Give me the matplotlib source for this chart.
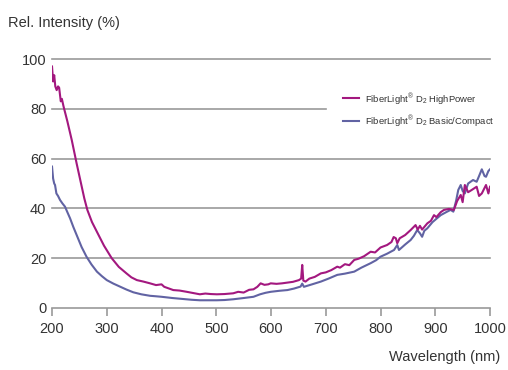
import numpy as np
import matplotlib
matplotlib.use("Agg")
import matplotlib.pyplot as plt

plt.rcParams['font.family'] = ['Liberation Sans', 'DejaVu Sans']

# FiberLight D2 HighPower
wl_hp = [200, 202, 204, 206, 208.5, 211, 213, 216, 218, 221, 228, 236, 245, 254, 259,
         264.5, 273, 282, 295, 309, 322, 336, 345, 355, 367, 379, 390, 400, 405, 421.5,
         433, 446, 458, 470, 480, 490, 501, 515, 531, 540, 550, 560, 568, 575, 581,
         588, 595, 599.5, 610, 620, 630, 640, 651, 655, 657, 659, 663, 670, 680, 691,
         700, 710, 721, 726, 735, 743, 752, 760, 770, 782, 790, 800, 812, 820, 824,
         828, 830.6, 835, 845, 855, 864, 868, 872, 876, 885.5, 892, 897.7, 902, 910,
         916, 925, 934, 940, 946.5, 950, 954, 960, 966.5, 975.6, 980, 985, 992.7, 997, 1000]
int_hp = [97, 91, 93.5, 89, 87.5, 89, 88.5, 83, 84, 81, 75, 67.5, 58, 49, 44,
          39.4, 34.5, 30.6, 25, 20, 16.5, 13.9, 12.3, 11.2, 10.6, 9.9, 9.2, 9.5, 8.5, 7.2,
          7, 6.5, 6, 5.5, 5.8, 5.6, 5.5, 5.6, 5.9, 6.5, 6.2, 7.3, 7.5, 8.5, 9.9,
          9.3, 9.5, 9.9, 9.7, 9.9, 10.2, 10.5, 11.2, 11.8, 17.3, 11, 10.6, 11.8, 12.5, 13.9,
          14.3, 15.2, 16.6, 16.2, 17.6, 17.2, 19.3, 19.8, 20.8, 22.6, 22.3, 24.3, 25.3, 26.5, 28.5,
          28, 26, 28, 29.3, 31.3, 33.3, 31.5, 33, 31.5, 34, 35, 37.3, 36.5, 38.5,
          39.4, 39.8, 39.4, 43, 45.4, 42.5, 49.4, 46.5, 47.4, 48.7, 45, 46, 49.4, 46, 48.7]

# FiberLight D2 Basic/Compact
wl_bc = [200, 202, 204, 205.5, 208, 211, 214.6, 219, 223.7, 228, 233, 239, 245, 254, 263,
         272, 282, 291, 300, 312, 324, 336, 348.5, 363, 379, 390, 400, 420, 440, 455,
         470, 485, 501, 515, 531, 550, 568, 580, 590, 599.5, 615, 630, 642, 654, 657,
         660, 675, 691, 705, 721, 735, 752, 765, 782, 792, 800, 812, 824.7, 830.6, 833.7,
         845, 855, 861, 867, 872, 876, 880, 885.5, 895, 903, 910, 920, 928, 933, 938,
         942, 946.5, 950, 954, 960, 969, 975.6, 980, 985, 990, 992.7, 997, 1000]
int_bc = [56.8, 52, 50, 49.4, 46, 45, 43.4, 42, 40.7, 38.5, 36, 32.5, 29.3, 24.5, 20.6,
          17.5, 14.6, 12.8, 11.2, 9.8, 8.6, 7.4, 6.3, 5.5, 4.9, 4.7, 4.5, 4, 3.6, 3.3,
          3.1, 3.1, 3.1, 3.2, 3.5, 4, 4.5, 5.5, 6.1, 6.5, 6.9, 7.2, 7.8, 8.6, 9.8,
          8.5, 9.5, 10.6, 11.8, 13.3, 13.8, 14.6, 16.2, 18, 19.2, 20.6, 21.8, 23.3, 25.3, 23.3,
          25.5, 27.3, 29, 31.3, 30, 28.6, 31, 32, 34.5, 36, 37.3, 38.5, 39.4, 38.7, 43,
          47.4, 49.4, 47, 46, 50, 51.4, 50.7, 53, 55.7, 53, 52.7, 55, 55.7]

labels = ["FiberLight$^\\mathregular{®}$ D$_\\mathregular{2}$ HighPower",
          "FiberLight$^\\mathregular{®}$ D$_\\mathregular{2}$ Basic/Compact"]
colors = ["#a3187f", "#6163a3"]
yticks = [0, 20, 40, 60, 80, 100]
xticks = [200, 300, 400, 500, 600, 700, 800, 900, 1000]

text_col = "#333333"
grid_col = "#9a9a9a"

fig = plt.figure(figsize=(5.08, 3.70), dpi=100)
ax = fig.add_axes([0.1024, 0.1676, 0.8622, 0.6729])

# horizontal grid; the 80 line stops short of the legend
for y in yticks[1:]:
    xmax = 700 if y == 80 else 1000
    ax.plot([200, xmax], [y, y], color=grid_col, lw=1.2, zorder=1, clip_on=False)

ax.plot(wl_bc, int_bc, color=colors[1], lw=1.5, label=labels[1], zorder=3)
ax.plot(wl_hp, int_hp, color=colors[0], lw=1.5, label=labels[0], zorder=4)

ax.set_xlim(200, 1000)
ax.set_ylim(0, 100)
ax.set_xticks(xticks)
ax.set_yticks(yticks)
for s in ['top', 'right', 'left']:
    ax.spines[s].set_visible(False)
ax.spines['bottom'].set_color(grid_col)
ax.spines['bottom'].set_linewidth(1.2)
ax.tick_params(axis='x', colors=grid_col, length=6, width=1.2, labelcolor=text_col,
               labelsize=10.5, pad=4)
ax.tick_params(axis='y', length=0, labelcolor=text_col, labelsize=10.5, pad=4)

fig.text(8 / 508, 1 - 23 / 370, "Rel. Intensity (%)", fontsize=10.5, color=text_col,
         ha='left', va='center')
fig.text(500 / 508, 1 - 357 / 370, "Wavelength (nm)", fontsize=10.5, color=text_col,
         ha='right', va='center')

h, l = ax.get_legend_handles_labels()
leg = fig.legend(h[::-1], l[::-1], loc='upper left', bbox_to_anchor=(0.665, 0.768),
                 frameon=False, fontsize=6.8, borderpad=0, handlelength=1.7,
                 handletextpad=0.7, labelspacing=0.7, labelcolor=text_col)

fig.savefig("out.png", dpi=100, facecolor='white')
